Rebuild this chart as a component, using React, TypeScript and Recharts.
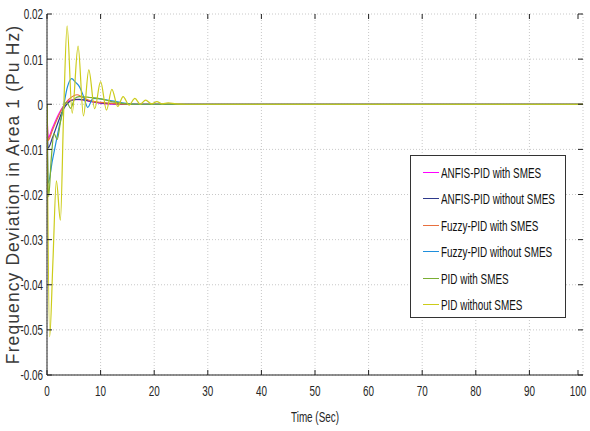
import { CartesianGrid, Line, LineChart, XAxis, YAxis } from "recharts";

// time (s) / deviation (pu Hz)
const anfisWith = [
  { t: 0, v: 0 }, { t: 0.2, v: -0.0075 }, { t: 1, v: -0.0053 }, { t: 2, v: -0.0026 },
  { t: 3, v: -0.0005 }, { t: 3.6, v: 0.0003 }, { t: 4.5, v: 0.0009 }, { t: 5.5, v: 0.0011 },
  { t: 7, v: 0.0009 }, { t: 9, v: 0.0004 }, { t: 11, v: 0.0001 }, { t: 14, v: 0 }, { t: 100, v: 0 },
];
const anfisWithout = [
  { t: 0, v: 0 }, { t: 0.2, v: -0.0097 }, { t: 1, v: -0.0075 }, { t: 2, v: -0.0042 },
  { t: 3, v: -0.0012 }, { t: 4, v: 0.0004 }, { t: 5, v: 0.001 }, { t: 6, v: 0.0011 },
  { t: 8, v: 0.0007 }, { t: 10, v: 0.0003 }, { t: 13, v: 0.0001 }, { t: 16, v: 0 }, { t: 100, v: 0 },
];
const fuzzyWith = [
  { t: 0, v: 0 }, { t: 0.2, v: -0.008 }, { t: 1, v: -0.0058 }, { t: 2, v: -0.003 },
  { t: 3, v: -0.0006 }, { t: 4, v: 0.001 }, { t: 5, v: 0.0019 }, { t: 5.6, v: 0.0021 },
  { t: 6.5, v: 0.0016 }, { t: 8, v: 0.0008 }, { t: 10, v: 0.0004 }, { t: 13, v: 0.0001 },
  { t: 16, v: 0 }, { t: 100, v: 0 },
];
const fuzzyWithout = [
  { t: 0, v: 0 }, { t: 0.2, v: -0.0175 }, { t: 1, v: -0.0125 }, { t: 2, v: -0.0065 },
  { t: 3, v: -0.001 }, { t: 3.8, v: 0.0038 }, { t: 4.6, v: 0.0057 }, { t: 5.3, v: 0.0049 },
  { t: 6.1, v: 0.0038 }, { t: 6.8, v: 0.0018 }, { t: 7.6, v: -0.0007 }, { t: 8.6, v: 0.0013 },
  { t: 11, v: 0.001 }, { t: 12.5, v: 0.0007 }, { t: 14, v: 0.0003 }, { t: 17, v: 0 }, { t: 100, v: 0 },
];
const pidWith = [
  { t: 0, v: 0 }, { t: 0.3, v: -0.0205 }, { t: 0.8, v: -0.012 }, { t: 1.3, v: -0.0065 },
  { t: 1.9, v: -0.0078 }, { t: 2.5, v: -0.004 }, { t: 3.2, v: -0.0003 }, { t: 3.7, v: 0.0004 },
  { t: 4.4, v: -0.0009 }, { t: 5.2, v: 0.0013 }, { t: 6, v: 0.0017 }, { t: 8, v: 0.0015 },
  { t: 10, v: 0.0012 }, { t: 12, v: 0.0006 }, { t: 14, v: 0.0002 }, { t: 17, v: 0 }, { t: 100, v: 0 },
];
const pidWithout = [
  { t: 0, v: 0 }, { t: 0.5, v: -0.0515 }, { t: 1.1, v: -0.035 }, { t: 1.75, v: -0.017 },
  { t: 2.5, v: -0.0257 }, { t: 3.1, v: -0.002 }, { t: 3.75, v: 0.0174 }, { t: 4.7, v: -0.002 },
  { t: 5.8, v: 0.0129 }, { t: 6.8, v: -0.0026 }, { t: 7.8, v: 0.0076 }, { t: 8.9, v: -0.001 },
  { t: 10, v: 0.005 }, { t: 11.1, v: -0.0013 }, { t: 12.1, v: 0.0033 }, { t: 13.2, v: -0.0005 },
  { t: 14.2, v: 0.0017 }, { t: 15.3, v: -0.0002 }, { t: 16.4, v: 0.0013 }, { t: 17.4, v: 0 },
  { t: 18.4, v: 0.0009 }, { t: 19.5, v: 0.0001 }, { t: 20.5, v: 0.0006 }, { t: 21.5, v: 0.0001 },
  { t: 22.6, v: 0.0003 }, { t: 24, v: 0.0001 }, { t: 26, v: 0 }, { t: 100, v: 0 },
];

const seriesNames = [
  "ANFIS-PID with SMES",
  "ANFIS-PID without SMES",
  "Fuzzy-PID with SMES",
  "Fuzzy-PID without SMES",
  "PID with SMES",
  "PID without SMES",
];
const seriesColors = ["#ff00ff", "#2e3a8c", "#e8703f", "#1f8fdc", "#7aae32", "#cccc1a"];
const seriesData = [anfisWith, anfisWithout, fuzzyWith, fuzzyWithout, pidWith, pidWithout];

const xTicks = [0, 10, 20, 30, 40, 50, 60, 70, 80, 90, 100];
const yTicks = [-0.06, -0.05, -0.04, -0.03, -0.02, -0.01, 0, 0.01, 0.02];

const W = 590;
const H = 431;
const LEFT = 47;
const RIGHT = 583;
const TOP = 14;
const BOTTOM = 375;
const font = "'Liberation Sans', Arial, sans-serif";
const SQUEEZE = 0.66;
const FS = 15;

function XTick(props: any) {
  const { x, payload } = props;
  return (
    <g>
      <line x1={x} x2={x} y1={BOTTOM} y2={BOTTOM - 5} stroke="#222" />
      <line x1={x} x2={x} y1={TOP} y2={TOP + 5} stroke="#222" />
      <text
        transform={`translate(${x}, ${BOTTOM + 20.5}) scale(${SQUEEZE}, 1)`}
        textAnchor="middle"
        fontSize={FS}
        fill="#262626"
        fontFamily={font}
      >
        {payload.value}
      </text>
    </g>
  );
}

function YTick(props: any) {
  const { y, payload } = props;
  const v = payload.value;
  const label = Math.abs(v) < 1e-9 ? "0" : v.toFixed(2);
  return (
    <g>
      <line x1={LEFT} x2={LEFT + 5} y1={y} y2={y} stroke="#222" />
      <line x1={RIGHT} x2={RIGHT - 5} y1={y} y2={y} stroke="#222" />
      <text
        transform={`translate(${LEFT - 4}, ${y + 5.4}) scale(${SQUEEZE}, 1)`}
        textAnchor="end"
        fontSize={FS}
        fill="#262626"
        fontFamily={font}
      >
        {label}
      </text>
    </g>
  );
}

function XLabel(props: any) {
  const { viewBox } = props;
  const cx = viewBox.x + viewBox.width / 2;
  return (
    <text
      transform={`translate(${cx}, 422) scale(${SQUEEZE}, 1)`}
      textAnchor="middle"
      fontSize={FS}
      fill="#262626"
      fontFamily={font}
    >
      Time (Sec)
    </text>
  );
}

function YLabel(props: any) {
  const { viewBox } = props;
  const cx = 13;
  const cy = viewBox.y + viewBox.height / 2;
  return (
    <text
      x={cx}
      y={cy}
      transform={`rotate(-90, ${cx}, ${cy})`}
      textAnchor="middle"
      dominantBaseline="central"
      fontSize={17.5}
      letterSpacing={1.1}
      fill="#3a3a3a"
      fontFamily={font}
    >
      Frequency Deviation in Area 1 (Pu Hz)
    </text>
  );
}

function LegendBox() {
  return (
    <div
      style={{
        position: "absolute",
        left: 410,
        top: 155,
        width: 156,
        height: 163,
        background: "#fff",
        border: "1px solid #333",
        boxSizing: "border-box",
        paddingTop: 3,
        fontFamily: font,
        fontSize: FS,
        color: "#111",
      }}
    >
      {seriesNames.map((n, i) => (
        <div key={n} style={{ display: "flex", alignItems: "center", height: 26.5, whiteSpace: "nowrap" }}>
          <div
            style={{
              flexShrink: 0,
              width: 16,
              height: 0,
              borderTop: `1.5px solid ${seriesColors[i]}`,
              marginLeft: 12,
              marginRight: 2,
            }}
          />
          <span style={{ display: "inline-block", transform: `scaleX(${SQUEEZE})`, transformOrigin: "left center" }}>{n}</span>
        </div>
      ))}
    </div>
  );
}

export default function App() {
  return (
    <div style={{ position: "absolute", left: 0, top: 0, width: W, height: H, background: "#fff", overflow: "hidden" }}>
      <LineChart width={W} height={H} margin={{ top: TOP, right: W - RIGHT, left: 0, bottom: 0 }}>
        <CartesianGrid stroke="#c8c8c8" strokeDasharray="1 2" horizontalValues={yTicks} verticalValues={xTicks} />
        <XAxis
          type="number"
          dataKey="t"
          domain={[0, 100]}
          ticks={xTicks}
          height={H - BOTTOM}
          tickLine={false}
          tickSize={0}
          tick={<XTick />}
          stroke="#222"
          allowDataOverflow
          label={<XLabel />}
        />
        <XAxis xAxisId="top" orientation="top" type="number" domain={[0, 100]} height={0} tick={false} tickLine={false} stroke="#222" />
        <YAxis
          type="number"
          domain={[-0.06, 0.02]}
          ticks={yTicks}
          width={LEFT}
          tickLine={false}
          tickSize={0}
          tick={<YTick />}
          stroke="#222"
          allowDataOverflow
          label={<YLabel />}
        />
        <YAxis yAxisId="right" orientation="right" type="number" domain={[-0.06, 0.02]} width={0} tick={false} tickLine={false} stroke="#222" />
        {seriesData.map((d, i) => (
          <Line
            key={seriesNames[i]}
            data={d}
            dataKey="v"
            name={seriesNames[i]}
            type="monotone"
            stroke={seriesColors[i]}
            strokeWidth={1.2}
            dot={false}
            isAnimationActive={false}
          />
        ))}
      </LineChart>
      <LegendBox />
    </div>
  );
}
